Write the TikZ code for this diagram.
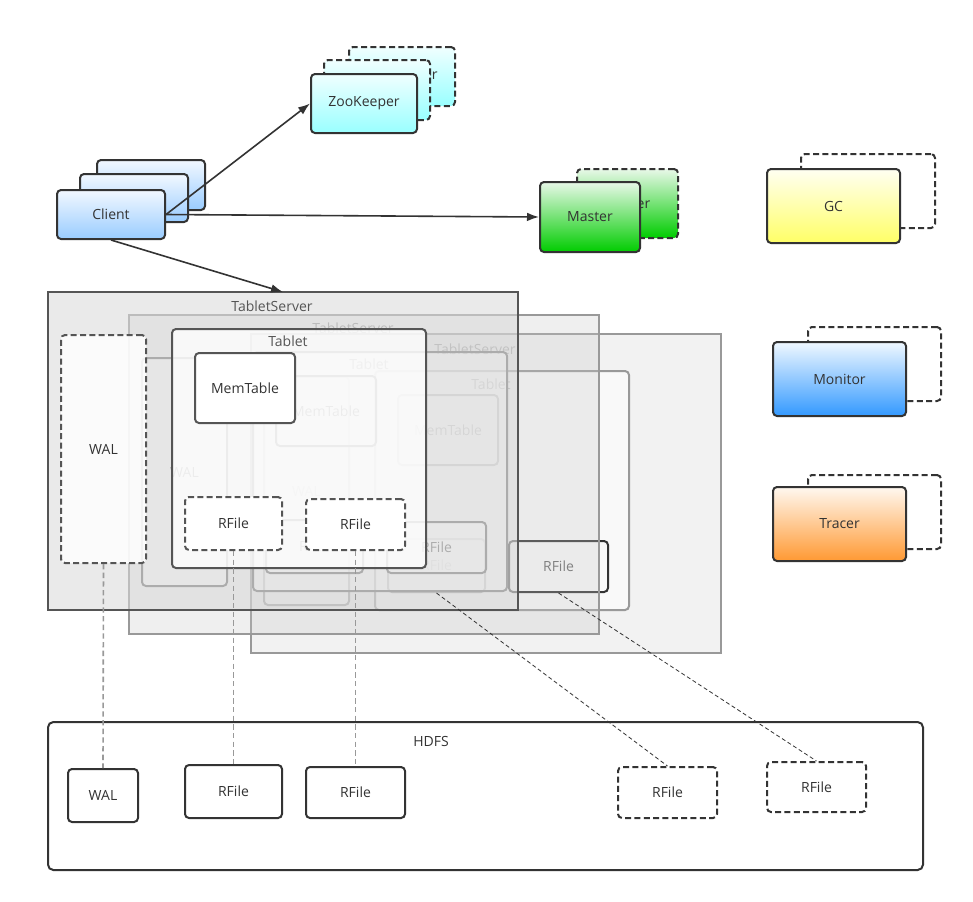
\documentclass[tikz,border=0pt]{standalone}
\usepackage{fontspec}
\setmainfont{Open Sans}
\usetikzlibrary{arrows.meta}
\definecolor{ink}{HTML}{333333}
\definecolor{c55}{HTML}{555555}
\definecolor{c66}{HTML}{666666}
\definecolor{c77}{HTML}{777777}
\definecolor{c99}{HTML}{999999}
\definecolor{cF2}{HTML}{F2F2F2}
\definecolor{cBC}{HTML}{C8C8C8}
\definecolor{cD7}{HTML}{D9D9D9}
\definecolor{zkT}{HTML}{F0FFFF}
\definecolor{zkB}{HTML}{99FFFF}
\definecolor{clT}{HTML}{F2F8FF}
\definecolor{clB}{HTML}{99CCFF}
\definecolor{msT}{HTML}{E8F8E8}
\definecolor{msB}{HTML}{00CC00}
\definecolor{gcT}{HTML}{FFFFF2}
\definecolor{gcB}{HTML}{FFFF66}
\definecolor{moT}{HTML}{F0F8FF}
\definecolor{moB}{HTML}{3399FF}
\definecolor{trT}{HTML}{FFF8F0}
\definecolor{trB}{HTML}{FF9933}
\newcommand\bx[7][]{\node[#1, minimum width={(#5-#3)*0.75pt}, minimum height={(#6-#4)*0.75pt}] (#2) at ({(#3+#5)/2},{(#4+#6)/2}) {#7};}
\begin{document}
\begin{tikzpicture}[x=0.75pt,y=-0.75pt,
  every node/.style={font=\fontsize{10.5}{12}\selectfont, text=ink},
  box/.style={draw=ink, line width=1.5pt, rounded corners=3pt, inner sep=0pt},
  dbox/.style={box, dash pattern=on 4.5pt off 2.5pt},
  zkfill/.style={top color=zkT, bottom color=zkB},
  clfill/.style={top color=clT, bottom color=clB},
  msfill/.style={top color=msT, bottom color=msB},
  gcfill/.style={top color=gcT, bottom color=gcB},
  mofill/.style={top color=moT, bottom color=moB},
  trfill/.style={top color=trT, bottom color=trB},
  tsthree/.style={draw=c99, line width=1.4pt, fill=cF2, inner sep=0pt},
  tstwo/.style={draw=c99, line width=1.4pt, fill=cBC, fill opacity=0.28, inner sep=0pt},
  tsone/.style={draw=c55, line width=1.4pt, fill=cD7, fill opacity=0.55, inner sep=0pt},
  itemthree/.style={box, draw=c99, text=c99, fill=white, fill opacity=0.4, text opacity=1},
  itemtwo/.style={box, draw=c77, text=c77, fill=white, fill opacity=0.5, text opacity=1},
  itemone/.style={box, draw=c55, text=ink, fill=white},
  arr/.style={draw=ink, line width=1.2pt, -{Latex[length=9pt,width=6.5pt]}},
  vlink/.style={draw=c99, line width=1.2pt, dash pattern=on 4pt off 2.5pt},
  dlink/.style={draw=ink, line width=0.6pt, dash pattern=on 3pt off 2pt},
]
\fill[white] (0,0) rectangle (973,901);
\useasboundingbox (0,0) rectangle (973,901);

% ZooKeeper
\bx[dbox, zkfill]{zkc}{349}{47}{455}{106}{ZooKeeper}
\bx[dbox, zkfill]{zkb}{324}{60}{430}{120}{ZooKeeper}
\bx[box, zkfill]{zk}{311}{74}{417}{133}{ZooKeeper}
% Client
\bx[box, clfill]{clc}{97}{160}{205}{210}{Client}
\bx[box, clfill]{clb}{80}{174}{188}{222}{Client}
\bx[box, clfill]{client}{57}{190}{165}{239}{Client}
% Master
\bx[dbox, msfill]{msb}{577}{169}{678}{238}{Master}
\bx[box, msfill]{master}{540}{182}{640}{252}{Master}
% GC, Monitor, Tracer
\bx[dbox, fill=white]{gcb}{801}{154}{935}{228}{}
\bx[box, gcfill]{gc}{767}{169}{900}{243}{GC}
\bx[dbox, fill=white]{mob}{808}{327}{941}{401}{}
\bx[box, mofill]{monitor}{773}{342}{906}{416}{Monitor}
\bx[dbox, fill=white]{trb}{808}{475}{941}{549}{}
\bx[box, trfill]{tracer}{773}{487}{906}{561}{Tracer}

% TabletServer 3 (back)
\bx[tsthree]{ts3}{251}{334}{721}{653}{}
\node[text=c99] (ts3t) at (475,349) {TabletServer};
\bx[itemthree]{wal3}{264}{377}{349}{605}{WAL}
\bx[itemthree, draw=c99, fill opacity=0.6]{tab3}{375}{371}{629}{610}{}
\node[text=c99] (tab3t) at (491,384) {Tablet};
\bx[itemthree]{mem3}{398}{395}{498}{465}{MemTable}
\bx[itemthree]{rf3a}{388}{539}{485}{592}{RFile}
\bx[itemthree, draw=ink, text=c66, fill opacity=0]{rf3b}{509}{541}{608}{592}{RFile}

% TabletServer 2 (middle)
\bx[tstwo]{ts2}{129}{315}{599}{634}{}
\node[text=c99] (ts2t) at (353,328) {TabletServer};
\bx[itemtwo]{wal2}{142}{358}{227}{586}{WAL}
\bx[itemtwo]{tab2}{253}{352}{507}{591}{}
\node[text=c99] (tab2t) at (369,364) {Tablet};
\bx[itemtwo]{mem2}{276}{376}{376}{446}{MemTable}
\bx[itemtwo]{rf2a}{266}{520}{363}{573}{RFile}
\bx[itemtwo]{rf2b}{387}{522}{486}{573}{RFile}

% TabletServer 1 (front)
\bx[tsone]{ts1}{48}{292}{518}{610}{}
\node[text=c55] (ts1t) at (272,306) {TabletServer};
\bx[itemone, dash pattern=on 4.5pt off 2.5pt, fill opacity=0.85, text opacity=1]{wal1}{61}{335}{146}{563}{WAL}
\bx[itemone, fill opacity=0.78]{tab1}{172}{329}{426}{568}{}
\node[text=c55] (tab1t) at (288,341) {Tablet};
\bx[itemone]{mem1}{195}{353}{295}{423}{MemTable}
\bx[itemone, dash pattern=on 4.5pt off 2.5pt]{rf1a}{185}{497}{282}{550}{RFile}
\bx[itemone, dash pattern=on 4.5pt off 2.5pt]{rf1b}{306}{499}{405}{550}{RFile}

% HDFS
\bx[box, fill=white, rounded corners=4pt]{hdfs}{48}{722}{923}{870}{}
\node (hdfst) at (431,741) {HDFS};
\bx[box, fill=white]{hwal}{68}{769}{138}{822}{WAL}
\bx[box, fill=white]{hrf1}{185}{765}{282}{818}{RFile}
\bx[box, fill=white]{hrf2}{306}{767}{405}{818}{RFile}
\bx[dbox, fill=white]{hrf3}{618}{767}{717}{818}{RFile}
\bx[dbox, fill=white]{hrf4}{767}{762}{866}{812}{RFile}

% links
\draw[vlink] (wal1.south) -- (hwal.north);
\draw[vlink] (rf1a.south) -- (hrf1.north);
\draw[vlink] (rf1b.south) -- (hrf2.north);
\draw[dlink] (rf3a.south) -- (hrf3.north);
\draw[dlink] (rf3b.south) -- (hrf4.north);

% arrows
\coordinate (tsin) at (283,292);
\draw[arr] (client.east) -- (zk.west);
\draw[arr] (client.east) -- (master.west);
\draw[arr] (client.south) -- (tsin);
\end{tikzpicture}
\end{document}
